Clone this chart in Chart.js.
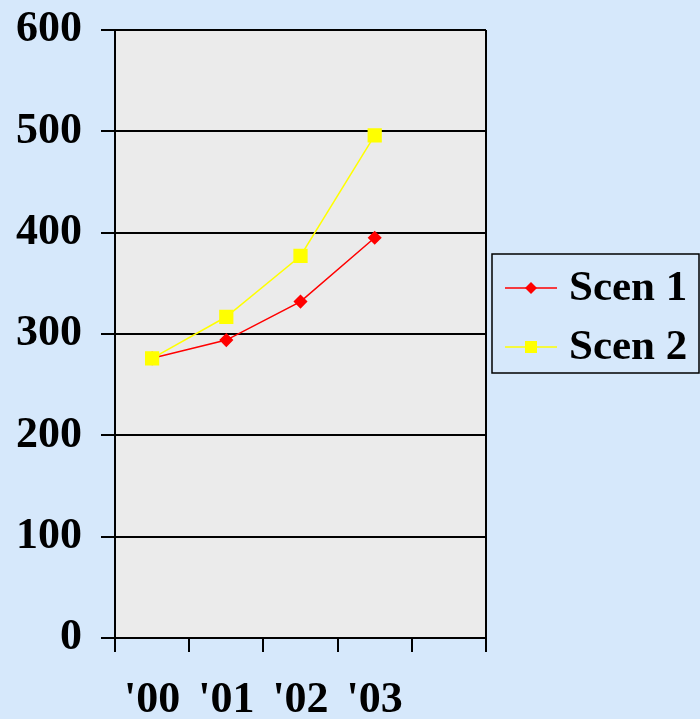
<!DOCTYPE html>
<html>
<head>
<meta charset="utf-8">
<script src="https://cdn.jsdelivr.net/npm/chart.js@4.4.1/dist/chart.umd.min.js"></script>
<style>
  html, body { margin: 0; padding: 0; background: #d6e8fb; }
  #wrap { width: 700px; height: 719px; position: relative; }
</style>
</head>
<body>
<div id="wrap"><canvas id="c"></canvas></div>
<script>
const categories = ["'00", "'01", "'02", "'03", ""];
const scen1 = [276, 294, 332, 395, null];
const scen2 = [276, 317, 377, 496, null];
const yTicks = [0, 100, 200, 300, 400, 500, 600];
const seriesNames = ["Scen 1", "Scen 2"];

const FONT = "'Liberation Serif', 'Times New Roman', serif";

const bgPlugin = {
  id: 'bgPlugin',
  beforeDraw(chart) {
    const { ctx, chartArea: a } = chart;
    ctx.save();
    ctx.fillStyle = '#d6e8fb';
    ctx.fillRect(0, 0, chart.width, chart.height);
    ctx.fillStyle = '#ebebeb';
    ctx.fillRect(a.left, a.top, a.right - a.left, a.bottom - a.top);
    ctx.restore();
  },
  afterDatasetsDraw(chart) {
    const { ctx, chartArea: a } = chart;
    ctx.save();
    ctx.strokeStyle = '#000';
    ctx.lineWidth = 2;
    ctx.beginPath();
    ctx.moveTo(a.right, a.top);
    ctx.lineTo(a.right, a.bottom);
    ctx.stroke();
    ctx.restore();
  }
};

const legendPlugin = {
  id: 'customLegend',
  afterDraw(chart) {
    const { ctx } = chart;
    const x0 = 492, y0 = 254, x1 = 699, y1 = 373;
    ctx.save();
    ctx.strokeStyle = '#000';
    ctx.lineWidth = 1.5;
    ctx.strokeRect(x0, y0, x1 - x0, y1 - y0);
    const rows = [288, 347];
    chart.data.datasets.forEach((ds, i) => {
      const y = rows[i];
      ctx.strokeStyle = ds.borderColor;
      ctx.lineWidth = 1.5;
      ctx.beginPath();
      ctx.moveTo(505, y);
      ctx.lineTo(557, y);
      ctx.stroke();
      ctx.fillStyle = ds.pointBackgroundColor;
      ctx.beginPath();
      if (ds.pointStyle === 'rectRot') {
        ctx.moveTo(531 - 6, y); ctx.lineTo(531, y - 6); ctx.lineTo(531 + 6, y); ctx.lineTo(531, y + 6);
        ctx.closePath();
      } else {
        ctx.rect(531 - 6, y - 6, 12, 12);
      }
      ctx.fill();
      ctx.fillStyle = '#000';
      ctx.font = 'bold 43px ' + FONT;
      ctx.textAlign = 'left';
      ctx.textBaseline = 'middle';
      ctx.fillText(ds.label, 569, y + 1);
    });
    ctx.restore();
  }
};

new Chart(document.getElementById('c'), {
  type: 'line',
  data: {
    labels: categories,
    datasets: [
      {
        label: seriesNames[0],
        data: scen1,
        order: 1,
        borderColor: '#ff0000',
        backgroundColor: '#ff0000',
        pointBackgroundColor: '#ff0000',
        pointBorderColor: '#ff0000',
        pointStyle: 'rectRot',
        pointRadius: 6,
        borderWidth: 1.5,
        tension: 0
      },
      {
        label: seriesNames[1],
        data: scen2,
        order: 0,
        borderColor: '#ffff00',
        backgroundColor: '#ffff00',
        pointBackgroundColor: '#ffff00',
        pointBorderColor: '#ffff00',
        pointStyle: 'rect',
        pointRadius: 9,
        borderWidth: 1.5,
        tension: 0
      }
    ]
  },
  options: {
    responsive: true,
    maintainAspectRatio: false,
    animation: false,
    devicePixelRatio: 1,
    layout: { padding: { left: 0, right: 214, top: 28, bottom: 0 } },
    plugins: { legend: { display: false }, tooltip: { enabled: false } },
    scales: {
      x: {
        offset: true,
        afterFit(scale) { scale.height = 81; },
        grid: {
          offset: true,
          drawOnChartArea: false,
          drawTicks: true,
          tickLength: 14,
          color: '#000',
          lineWidth: 2
        },
        border: { display: true, color: '#000', width: 2 },
        ticks: {
          color: '#000',
          font: { family: FONT, size: 44, weight: 'bold' },
          padding: 22,
          maxRotation: 0,
          autoSkip: false
        }
      },
      y: {
        min: 0,
        max: 600,
        afterFit(scale) { scale.width = 115; },
        afterBuildTicks(scale) { scale.ticks = yTicks.map(v => ({ value: v })); },
        grid: {
          color: '#000',
          lineWidth: 2,
          tickLength: 14,
          drawTicks: true
        },
        border: { display: true, color: '#000', width: 2 },
        ticks: {
          color: '#000',
          font: { family: FONT, size: 44, weight: 'bold', lineHeight: 0.5 },
          padding: 19
        }
      }
    }
  },
  plugins: [bgPlugin, legendPlugin]
});
</script>
</body>
</html>
